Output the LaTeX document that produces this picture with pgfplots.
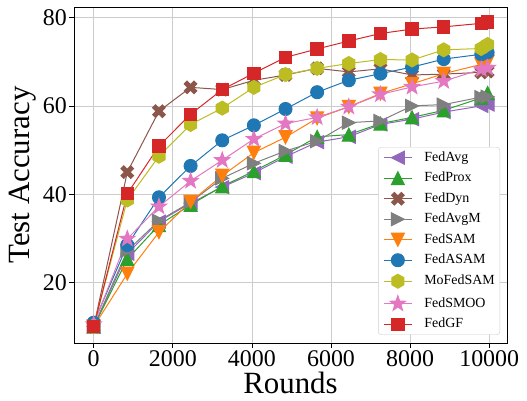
\documentclass[border=0pt]{standalone}
\usepackage{fontspec}
\setmainfont{Liberation Serif}
\usepackage{pgfplots}
\usepackage{pgfplotstable}
\pgfplotsset{compat=1.18}

% matplotlib tab10 colours
\definecolor{tpurple}{HTML}{9467BD}
\definecolor{tgreen}{HTML}{2CA02C}
\definecolor{tbrown}{HTML}{8C564B}
\definecolor{tgray}{HTML}{7F7F7F}
\definecolor{torange}{HTML}{FF7F0E}
\definecolor{tblue}{HTML}{1F77B4}
\definecolor{tolive}{HTML}{BCBD22}
\definecolor{tpink}{HTML}{E377C2}
\definecolor{tred}{HTML}{D62728}

% matplotlib-like filled markers
\pgfdeclareplotmark{tup}{%
  \pgfpathmoveto{\pgfqpoint{0pt}{\pgfplotmarksize}}%
  \pgfpathlineto{\pgfqpoint{-\pgfplotmarksize}{-\pgfplotmarksize}}%
  \pgfpathlineto{\pgfqpoint{\pgfplotmarksize}{-\pgfplotmarksize}}%
  \pgfpathclose\pgfusepathqfillstroke}
\pgfdeclareplotmark{tdown}{%
  \pgfpathmoveto{\pgfqpoint{0pt}{-\pgfplotmarksize}}%
  \pgfpathlineto{\pgfqpoint{-\pgfplotmarksize}{\pgfplotmarksize}}%
  \pgfpathlineto{\pgfqpoint{\pgfplotmarksize}{\pgfplotmarksize}}%
  \pgfpathclose\pgfusepathqfillstroke}
\pgfdeclareplotmark{tleft}{%
  \pgfpathmoveto{\pgfqpoint{-\pgfplotmarksize}{0pt}}%
  \pgfpathlineto{\pgfqpoint{\pgfplotmarksize}{\pgfplotmarksize}}%
  \pgfpathlineto{\pgfqpoint{\pgfplotmarksize}{-\pgfplotmarksize}}%
  \pgfpathclose\pgfusepathqfillstroke}
\pgfdeclareplotmark{tright}{%
  \pgfpathmoveto{\pgfqpoint{\pgfplotmarksize}{0pt}}%
  \pgfpathlineto{\pgfqpoint{-\pgfplotmarksize}{\pgfplotmarksize}}%
  \pgfpathlineto{\pgfqpoint{-\pgfplotmarksize}{-\pgfplotmarksize}}%
  \pgfpathclose\pgfusepathqfillstroke}
\pgfdeclareplotmark{hexa}{%
  \pgfpathmoveto{\pgfpointpolar{90}{\pgfplotmarksize}}%
  \pgfpathlineto{\pgfpointpolar{150}{\pgfplotmarksize}}%
  \pgfpathlineto{\pgfpointpolar{210}{\pgfplotmarksize}}%
  \pgfpathlineto{\pgfpointpolar{270}{\pgfplotmarksize}}%
  \pgfpathlineto{\pgfpointpolar{330}{\pgfplotmarksize}}%
  \pgfpathlineto{\pgfpointpolar{30}{\pgfplotmarksize}}%
  \pgfpathclose\pgfusepathqfillstroke}
\pgfdeclareplotmark{fstar}{%
  \pgfpathmoveto{\pgfpointpolar{90}{\pgfplotmarksize}}%
  \pgfpathlineto{\pgfpointpolar{126}{0.4\pgfplotmarksize}}%
  \pgfpathlineto{\pgfpointpolar{162}{\pgfplotmarksize}}%
  \pgfpathlineto{\pgfpointpolar{198}{0.4\pgfplotmarksize}}%
  \pgfpathlineto{\pgfpointpolar{234}{\pgfplotmarksize}}%
  \pgfpathlineto{\pgfpointpolar{270}{0.4\pgfplotmarksize}}%
  \pgfpathlineto{\pgfpointpolar{306}{\pgfplotmarksize}}%
  \pgfpathlineto{\pgfpointpolar{342}{0.4\pgfplotmarksize}}%
  \pgfpathlineto{\pgfpointpolar{18}{\pgfplotmarksize}}%
  \pgfpathlineto{\pgfpointpolar{54}{0.4\pgfplotmarksize}}%
  \pgfpathclose\pgfusepathqfillstroke}
\pgfdeclareplotmark{xfill}{%
  \pgftransformrotate{45}%
  \pgfpathmoveto{\pgfpoint{0.33\pgfplotmarksize}{1.15\pgfplotmarksize}}%
  \pgfpathlineto{\pgfpoint{0.33\pgfplotmarksize}{0.33\pgfplotmarksize}}%
  \pgfpathlineto{\pgfpoint{1.15\pgfplotmarksize}{0.33\pgfplotmarksize}}%
  \pgfpathlineto{\pgfpoint{1.15\pgfplotmarksize}{-0.33\pgfplotmarksize}}%
  \pgfpathlineto{\pgfpoint{0.33\pgfplotmarksize}{-0.33\pgfplotmarksize}}%
  \pgfpathlineto{\pgfpoint{0.33\pgfplotmarksize}{-1.15\pgfplotmarksize}}%
  \pgfpathlineto{\pgfpoint{-0.33\pgfplotmarksize}{-1.15\pgfplotmarksize}}%
  \pgfpathlineto{\pgfpoint{-0.33\pgfplotmarksize}{-0.33\pgfplotmarksize}}%
  \pgfpathlineto{\pgfpoint{-1.15\pgfplotmarksize}{-0.33\pgfplotmarksize}}%
  \pgfpathlineto{\pgfpoint{-1.15\pgfplotmarksize}{0.33\pgfplotmarksize}}%
  \pgfpathlineto{\pgfpoint{-0.33\pgfplotmarksize}{0.33\pgfplotmarksize}}%
  \pgfpathlineto{\pgfpoint{-0.33\pgfplotmarksize}{1.15\pgfplotmarksize}}%
  \pgfpathclose\pgfusepathqfillstroke}

% test accuracy against rounds
\pgfplotstableread{
x     avg   prox  dyn   avgm  sam   asam  mosam smoo  gf
0     10.0  10.0  10.0  10.0  10.0  10.9  10.2  10.5  10.0
850   26.5  25.3  45.0  27.2  22.0  28.5  38.7  29.9  40.1
1650  33.8  33.0  58.8  34.0  31.4  39.3  48.6  37.2  50.9
2450  38.0  37.6  64.2  38.2  38.3  46.4  55.8  43.0  58.1
3250  41.6  41.8  63.7  43.6  44.2  52.2  59.5  47.7  63.7
4050  44.8  45.2  65.8  47.0  49.4  55.6  64.2  52.5  67.4
4850  48.5  48.9  67.0  49.8  52.9  59.3  67.1  56.0  71.0
5650  51.8  53.0  68.5  52.0  57.2  63.1  68.5  57.4  72.9
6450  53.0  53.5  67.7  56.2  59.8  65.8  69.6  59.8  74.7
7250  55.8  56.0  68.4  56.6  62.8  67.3  70.5  62.6  76.4
8050  57.0  57.4  67.0  60.0  65.0  68.8  70.4  64.3  77.4
8850  58.6  59.0  67.2  60.3  67.3  70.6  72.7  65.6  77.9
9800  60.0  61.8  67.6  62.0  69.4  71.7  73.0  68.3  78.7
9960  60.3  62.9  67.8  62.1  70.0  72.1  73.9  68.6  79.0
}\acc

\begin{document}
\begin{tikzpicture}
\begin{axis}[
  scale only axis,
  width=433bp,
  height=336bp,
  xmin=-498, xmax=10450,
  ymin=6.3, ymax=82.4,
  xtick={0,2000,4000,6000,8000,10000},
  ytick={20,40,60,80},
  scaled x ticks=false,
  /pgf/number format/assume math mode=true,
  /pgf/number format/set thousands separator={},
  tick label style={font=\fontsize{24}{24}\selectfont},
  xticklabel style={inner sep=2bp},
  yticklabel style={inner sep=2bp},
  xlabel={Rounds},
  ylabel={Test Accuracy},
  label style={font=\fontsize{31}{31}\selectfont},
  xlabel style={inner sep=0bp, text depth=0bp, yshift=-4bp},
  ylabel style={inner sep=0bp, yshift=5bp},
  axis line style={black, line width=0.8bp},
  tick style={black, line width=0.8bp},
  tick align=outside,
  tickpos=left,
  major tick length=5bp,
  grid=major,
  major grid style={black!20, line width=0.8bp},
  every axis plot/.append style={line width=1bp},
  legend cell align=left,
  legend image code/.code={%
    \draw[mark repeat=2,mark phase=2] plot coordinates {(0bp,0bp) (14bp,0bp) (28bp,0bp)};},
  legend style={at={(0.984,0.024)}, anchor=south east,
    draw=black!20, rounded corners=3bp, fill=white,
    font=\fontsize{14}{14}\selectfont,
    inner xsep=5bp, inner ysep=4bp, row sep=7.5bp,
    nodes={inner sep=0bp, text height=10bp, text depth=3bp},
    /tikz/every odd column/.append style={column sep=12bp}},
]
\addplot[tpurple, mark=tleft, mark size=6.5bp, mark options={fill=tpurple}] table[x=x, y=avg] {\acc};
\addlegendentry{FedAvg}
\addplot[tgreen, mark=tup, mark size=6.5bp, mark options={fill=tgreen}] table[x=x, y=prox] {\acc};
\addlegendentry{FedProx}
\addplot[tbrown, mark=xfill, mark size=6bp, mark options={fill=tbrown}] table[x=x, y=dyn] {\acc};
\addlegendentry{FedDyn}
\addplot[tgray, mark=tright, mark size=6.5bp, mark options={fill=tgray}] table[x=x, y=avgm] {\acc};
\addlegendentry{FedAvgM}
\addplot[torange, mark=tdown, mark size=6.5bp, mark options={fill=torange}] table[x=x, y=sam] {\acc};
\addlegendentry{FedSAM}
\addplot[tblue, mark=*, mark size=6.5bp, mark options={fill=tblue}] table[x=x, y=asam] {\acc};
\addlegendentry{FedASAM}
\addplot[tolive, mark=hexa, mark size=7bp, mark options={fill=tolive}] table[x=x, y=mosam] {\acc};
\addlegendentry{MoFedSAM}
\addplot[tpink, mark=fstar, mark size=8bp, mark options={fill=tpink}] table[x=x, y=smoo] {\acc};
\addlegendentry{FedSMOO}
\addplot[tred, mark=square*, mark size=6.2bp, mark options={fill=tred}] table[x=x, y=gf] {\acc};
\addlegendentry{FedGF}
\end{axis}
\path (current axis.south west) ++(-74bp,-58bp) rectangle ([xshift=20bp,yshift=7bp]current axis.north east);
\end{tikzpicture}
\end{document}
